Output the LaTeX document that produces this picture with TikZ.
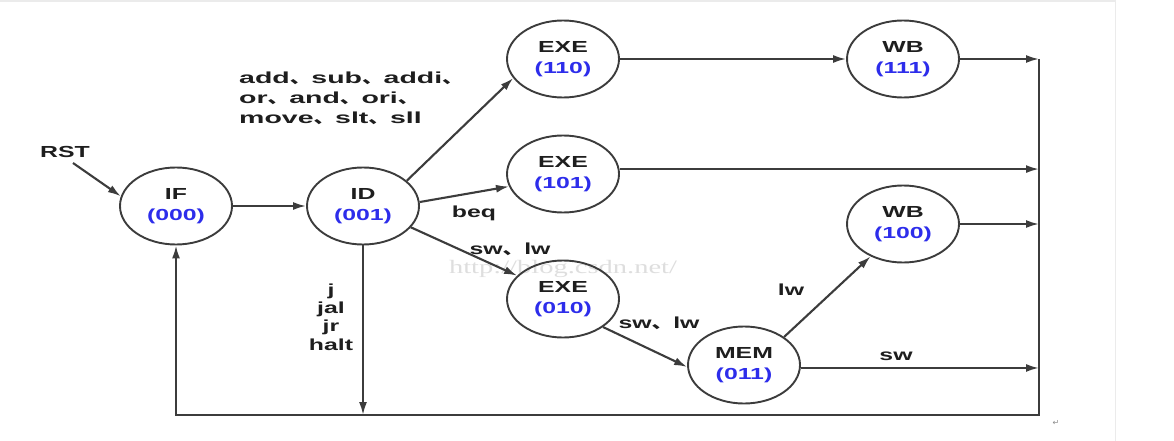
\documentclass[tikz,border=0pt]{standalone}
\usepackage{fontspec}
\setmainfont{Liberation Sans}[FakeStretch=1.55]
\newfontfamily\opsfont{Liberation Sans}[FakeStretch=1.78]
\newfontfamily\cjk{Noto Sans CJK SC}[FakeStretch=1.35]
\newfontfamily\wmfont{Liberation Serif}[FakeStretch=1.5]
\newfontfamily\symfont{DejaVu Sans}
\usetikzlibrary{arrows.meta,shapes.geometric,calc}
\newcommand{\zhc}{{\cjk 、}}
\definecolor{numblue}{RGB}{45,45,235}
\definecolor{linegray}{RGB}{60,60,60}
\definecolor{txt}{RGB}{30,30,30}
\tikzset{
  st/.style={ellipse, draw=linegray, line width=1.9pt, minimum width=112pt, minimum height=77pt,
    inner sep=0pt, align=center, font=\fontsize{16}{21}\selectfont\bfseries, text=txt},
  arr/.style={draw=linegray, line width=2.1pt, -{Latex[length=13pt,width=8pt]}},
  lab/.style={font=\fontsize{16}{20}\selectfont\bfseries, text=txt, inner sep=0pt}
}
\newcommand{\num}[1]{\textcolor{numblue}{#1}}
\begin{document}
\begin{tikzpicture}[x=1pt,y=-1pt]
\useasboundingbox[fill=white] (0,0) rectangle (1174,441);
% faint page frame
\draw[black!8, line width=1.5pt] (0,1) -- (1115,1);
\draw[black!8, line width=1pt] (1115,0) -- (1115,441);
% watermark
\node[text=black!13, font=\wmfont\fontsize{19}{19}\selectfont, inner sep=0pt] (wm) at (563,269) {http://blog.csdn.net/};
% states
\node[st] (IF)   at (176,206) {IF\\\num{(000)}};
\node[st] (ID)   at (363,206) {ID\\\num{(001)}};
\node[st] (E110) at (563,59)  {EXE\\\num{(110)}};
\node[st] (E101) at (563,174) {EXE\\\num{(101)}};
\node[st] (E010) at (563,299) {EXE\\\num{(010)}};
\node[st] (W111) at (903,59)  {WB\\\num{(111)}};
\node[st] (W100) at (903,224) {WB\\\num{(100)}};
\node[st] (MEM)  at (744,365) {MEM\\\num{(011)}};
% labels
\node[lab] (rst) at (65,152) {RST};
\node[lab, anchor=west, align=left, font=\opsfont\fontsize{16}{20}\selectfont\bfseries] (ops) at (239,98) {add\zhc sub\zhc addi\zhc\\or\zhc and\zhc ori\zhc\\move\zhc slt\zhc sll};
\node[lab] (beq) at (474,213) {beq};
\node[lab] (swlw1) at (510,249) {sw\zhc lw};
\node[lab, align=center, font=\fontsize{16}{18.3}\selectfont\bfseries] (jmp) at (331,317) {j\\jal\\jr\\halt};
\node[lab] (swlw2) at (659,323) {sw\zhc lw};
\node[lab] (lw) at (791,290) {lw};
\node[lab] (sw) at (896,356) {sw};
\node[text=black!45, font=\symfont\fontsize{8}{8}\selectfont, inner sep=0pt] (ret) at (1056,423) {↵};
% coordinates
\coordinate (rs) at (73,163);
\coordinate (rtop) at (1039,59);
\coordinate (rbot) at (1039,415);
\coordinate (jbot) at (363,415);
% connectors
\draw[arr] (rs) -- (IF.170);
\draw[arr] (IF) -- (ID);
\draw[arr] (ID.30) -- (E110.201);
\draw[arr] (ID.4) -- (E101.193);
\draw[arr] (ID.-24) -- (E010.153);
\draw[arr] (ID.south) -- (jbot);
\draw[arr] (E110) -- (W111);
\draw[arr] (W111.east) -- (W111.east -| rtop);
\draw[arr] (E101.5) -- (E101.5 -| rtop);
\draw[arr] (W100.east) -- (W100.east -| rtop);
\draw[arr] (E010.-35) -- (MEM.182);
\draw[arr] (MEM.35) -- (W100.225);
\draw[arr] (MEM.-3) -- (MEM.-3 -| rtop);
\draw[arr] (rtop) -- (rbot) -| (IF.south);
\end{tikzpicture}
\end{document}
